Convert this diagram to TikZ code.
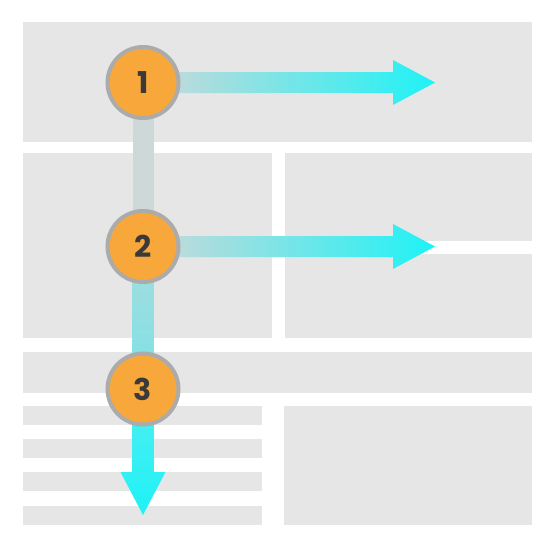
\documentclass[tikz,border=0pt]{standalone}
\usepackage{fontspec}
\newfontfamily\numfont{Poppins}
\usetikzlibrary{calc}
\definecolor{panelgray}{HTML}{E6E6E6}
\definecolor{ringgray}{HTML}{ABABAB}
\definecolor{dotorange}{HTML}{F8A83A}
\definecolor{numgray}{HTML}{3A3A3A}
\definecolor{pathgray}{HTML}{CFD8D8}
\definecolor{pathhmid}{HTML}{B2DFE1}
\definecolor{pathmid}{HTML}{A6DCDE}
\definecolor{pathlow}{HTML}{7CE2E6}
\definecolor{cyanend}{HTML}{1EF2F6}
\definecolor{cyanshaft}{HTML}{52EDF1}
\tikzset{
  panel/.style={fill=panelgray},
  stepdot/.style={circle, draw=ringgray, line width=4pt, fill=dotorange,
    minimum size=71pt, inner sep=0pt, text=numgray,
    font=\numfont\bfseries\fontsize{30}{30}\selectfont},
  harrow/.style={left color=pathgray, middle color=pathhmid, right color=cyanend},
}
\begin{document}
\begin{tikzpicture}[x=1pt,y=-1pt]
\useasboundingbox (0,0) rectangle (550,544);
\fill[white] (0,0) rectangle (550,544);
% layout panels
\fill[panel] (23,22) rectangle (532,142);
\fill[panel] (23,153) rectangle (272,338);
\fill[panel] (285,153) rectangle (532,241);
\fill[panel] (285,254) rectangle (532,338);
\fill[panel] (23,352) rectangle (532,393);
\fill[panel] (23,406) rectangle (262,425);
\fill[panel] (23,439) rectangle (262,458);
\fill[panel] (23,472) rectangle (262,491);
\fill[panel] (23,506) rectangle (262,525);
\fill[panel] (284,406) rectangle (532,525);
% step positions
\coordinate (p1) at (143,82.5);
\coordinate (p2) at (143,246.5);
\coordinate (p3) at (143,389);
\coordinate (t1) at (435,82.5);
\coordinate (t2) at (435,246.5);
\coordinate (t3) at (143,515);
% vertical path
\fill[pathgray] ($(p1)+(-10.5,0)$) rectangle ($(p2)+(10.5,0)$);
\shade[top color=pathmid, bottom color=pathlow] ($(p2)+(-10.5,0)$) rectangle ($(p3)+(10.5,0)$);
\shade[top color=cyanshaft, bottom color=cyanend]
  ($(p3)+(-10.8,0)$) -- ($(t3)+(-10.8,-43)$) -- ($(t3)+(-22.5,-43)$) -- (t3)
  -- ($(t3)+(22.5,-43)$) -- ($(t3)+(10.8,-43)$) -- ($(p3)+(10.8,0)$) -- cycle;
% horizontal arrows
\shade[harrow] ($(p1)+(0,-10.5)$) -- ($(t1)+(-42,-10.5)$) -- ($(t1)+(-42,-22.5)$) -- (t1)
  -- ($(t1)+(-42,22.5)$) -- ($(t1)+(-42,10.5)$) -- ($(p1)+(0,10.5)$) -- cycle;
\shade[harrow] ($(p2)+(0,-10.5)$) -- ($(t2)+(-42,-10.5)$) -- ($(t2)+(-42,-22.5)$) -- (t2)
  -- ($(t2)+(-42,22.5)$) -- ($(t2)+(-42,10.5)$) -- ($(p2)+(0,10.5)$) -- cycle;
% step dots
\node[stepdot] (c1) at (p1) {1};
\node[stepdot] (c2) at (p2) {2};
\node[stepdot] (c3) at (p3) {3};
\end{tikzpicture}
\end{document}
